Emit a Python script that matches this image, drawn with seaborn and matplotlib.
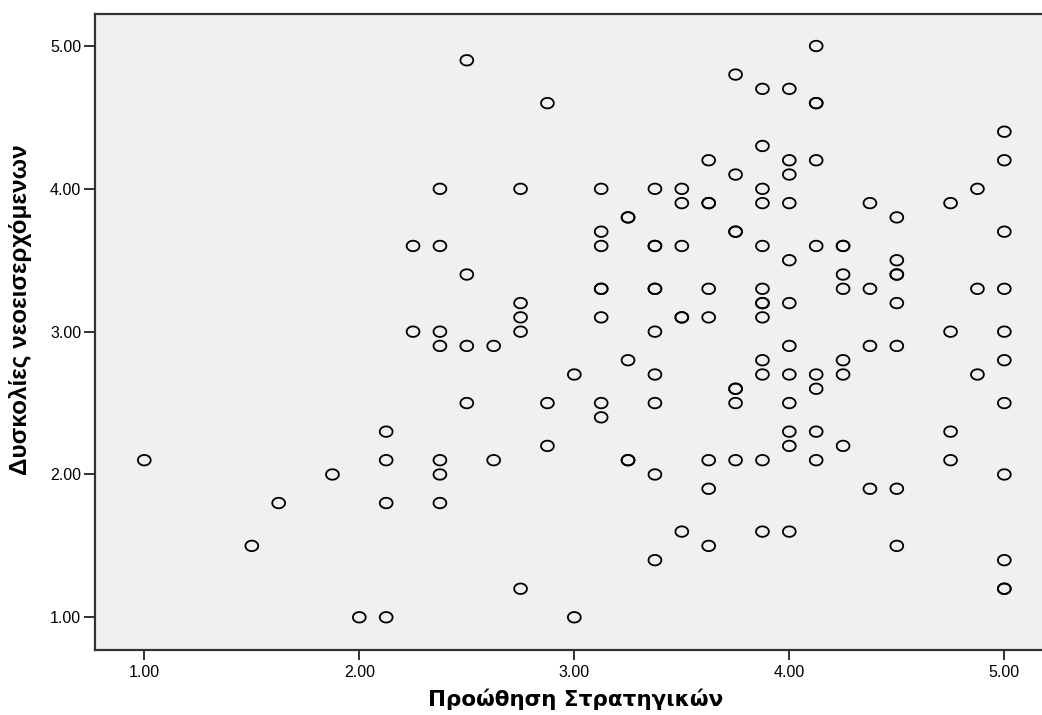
import numpy as np
import pandas as pd
import matplotlib
matplotlib.use("Agg")
import matplotlib.pyplot as plt
import seaborn as sns
from matplotlib.path import Path

# --- data: x values (Προώθηση Στρατηγικών) and y values per x column ---
x_columns = [1.00, 1.50, 1.625, 1.875, 2.00, 2.125, 2.25, 2.375, 2.50, 2.625,
             2.75, 2.875, 3.00, 3.125, 3.25, 3.375, 3.50, 3.625, 3.75, 3.875,
             4.00, 4.125, 4.25, 4.375, 4.50, 4.75, 4.875, 5.00]
y_by_column = [
    [2.1],
    [1.5],
    [1.8],
    [2.0],
    [1.0],
    [2.3, 2.1, 1.8, 1.0],
    [3.6, 3.0],
    [4.0, 3.6, 3.0, 2.9, 2.1, 2.0, 1.8],
    [4.9, 3.4, 2.9, 2.5],
    [2.9, 2.1],
    [4.0, 3.2, 3.1, 3.0, 1.2],
    [4.6, 2.5, 2.2],
    [2.7, 1.0],
    [4.0, 3.7, 3.6, 3.3, 3.3, 3.1, 2.5, 2.4],
    [3.8, 3.8, 2.8, 2.1, 2.1],
    [4.0, 3.6, 3.6, 3.3, 3.3, 3.0, 2.7, 2.5, 2.0, 1.4],
    [4.0, 3.9, 3.6, 3.1, 3.1, 1.6],
    [4.2, 3.9, 3.9, 3.3, 3.1, 2.1, 1.9, 1.5],
    [4.8, 4.1, 3.7, 3.7, 2.6, 2.6, 2.5, 2.1],
    [4.7, 4.3, 4.0, 3.9, 3.6, 3.3, 3.2, 3.2, 3.1, 2.8, 2.7, 2.1, 1.6],
    [4.7, 4.2, 4.1, 3.9, 3.5, 3.2, 2.9, 2.7, 2.5, 2.3, 2.2, 1.6],
    [5.0, 4.6, 4.6, 4.2, 3.6, 2.7, 2.6, 2.3, 2.1],
    [3.6, 3.6, 3.4, 3.3, 2.8, 2.7, 2.2],
    [3.9, 3.3, 2.9, 1.9],
    [3.8, 3.5, 3.4, 3.4, 3.2, 2.9, 1.9, 1.5],
    [3.9, 3.0, 2.3, 2.1],
    [4.0, 3.3, 2.7],
    [4.4, 4.2, 3.7, 3.3, 3.0, 2.8, 2.5, 2.0, 1.4, 1.2, 1.2],
]
tick_values = [1.0, 2.0, 3.0, 4.0, 5.0]
tick_labels = ["1.00", "2.00", "3.00", "4.00", "5.00"]
x_title = "Προώθηση Στρατηγικών"
y_title = "Δυσκολίες νεοεισερχόμενων"

rows = [(x, y) for x, ys in zip(x_columns, y_by_column) for y in ys]
df = pd.DataFrame(rows, columns=["x", "y"])

sns.set_theme(style="white")
plt.rcParams["font.family"] = ["Liberation Sans", "DejaVu Sans"]
plt.rcParams["text.color"] = "black"
plt.rcParams["axes.labelcolor"] = "black"
plt.rcParams["xtick.color"] = "black"
plt.rcParams["ytick.color"] = "black"

fig = plt.figure(figsize=(10.42, 7.15), dpi=100)
ax = fig.add_axes([95 / 1042, (715 - 649.5) / 715, 1 - 95 / 1042, (649.5 - 13.5) / 715])
ax.set_facecolor("#F0F0F0")

t = np.linspace(0, 2 * np.pi, 60)
ellipse = Path(np.column_stack([np.cos(t), 0.82 * np.sin(t)]), closed=True)

sns.scatterplot(data=df, x="x", y="y", ax=ax, marker=ellipse, s=85,
                facecolor="none", edgecolor="black", linewidth=1.3)

ax.set_xlim(0.7707, 5.1753)
ax.set_ylim(0.7745, 5.2276)
ax.set_xticks(tick_values)
ax.set_xticklabels(tick_labels)
ax.set_yticks(tick_values)
ax.set_yticklabels(tick_labels)
ax.tick_params(axis="x", direction="out", length=7, width=1.3, color="#222222",
               labelsize=11.5, pad=4, bottom=True, labelcolor="black")
ax.tick_params(axis="y", direction="out", length=8, width=1.3, color="#222222",
               labelsize=11.5, pad=2, left=True, labelcolor="black")

for side in ["left", "top", "bottom"]:
    ax.spines[side].set_visible(True)
    ax.spines[side].set_color("#333333")
    ax.spines[side].set_linewidth(1.6)
ax.spines["right"].set_visible(False)

ax.set_xlabel(x_title, fontsize=15.5, fontweight="bold",
              family=["DejaVu Sans"], color="black")
ax.set_ylabel(y_title, fontsize=17.5, fontweight="bold", color="black")
ax.yaxis.set_label_coords(-0.066, 0.534)
ax.xaxis.set_label_coords(0.507, -0.061)

fig.savefig("out.png", dpi=100)
